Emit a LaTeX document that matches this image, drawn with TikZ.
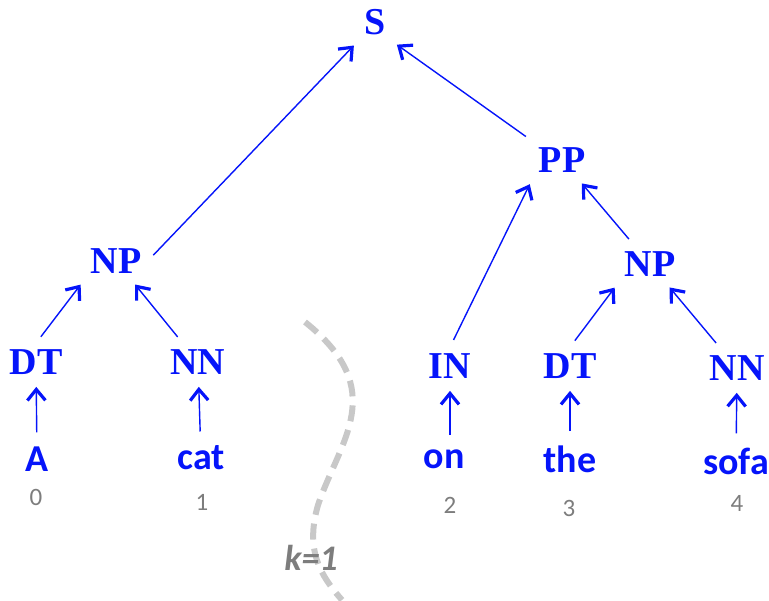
\documentclass[tikz,border=0pt]{standalone}
\usepackage{fontspec}
\setmainfont{Liberation Serif}
\newfontfamily\tagfont{Liberation Serif}
\newfontfamily\wordfont{Carlito}
\usetikzlibrary{arrows.meta}

\definecolor{treeblue}{RGB}{5,20,250}
\definecolor{idxgray}{RGB}{125,125,125}
\definecolor{cutgray}{RGB}{200,200,200}

\begin{document}
\begin{tikzpicture}[
  x=0.5pt, y=-0.5pt,
  tag/.style={font=\tagfont\bfseries\fontsize{19}{20}\selectfont, text=treeblue, inner sep=3pt},
  word/.style={font=\wordfont\bfseries\fontsize{19}{20}\selectfont, text=treeblue, inner sep=3pt},
  idx/.style={font=\wordfont\fontsize{12.5}{13}\selectfont, text=idxgray},
  up/.style={treeblue, line width=0.7pt,
    -{Straight Barb[length=5.5pt, width=9pt, line width=1.6pt]},
    shorten <=4pt, shorten >=3pt},
]
\useasboundingbox (0,0) rectangle (769,600);

% Root and phrases
\node[tag] (s)   at (375, 22)  {S};
\node[tag] (pp)  at (562, 160) {PP};
\node[tag] (np1) at (116, 261) {NP};
\node[tag] (np2) at (650, 264) {NP};

% Part-of-speech tags
\node[tag] (dt1) at (36, 362)  {DT};
\node[tag] (nn1) at (198, 362) {NN};
\node[tag] (in)  at (450, 366) {IN};
\node[tag] (dt2) at (570, 366) {DT};
\node[tag] (nn2) at (737, 368) {NN};

% Words
\node[word] (w0) at (37, 459)  {A};
\node[word] (w1) at (201, 458) {cat};
\node[word] (w2) at (444, 459) {on};
\node[word] (w3) at (570, 459) {the};
\node[word] (w4) at (736, 461) {sofa};

% Word positions
\node[idx] (i0) at (36, 497)  {0};
\node[idx] (i1) at (202, 502) {1};
\node[idx] (i2) at (450, 505) {2};
\node[idx] (i3) at (569, 508) {3};
\node[idx] (i4) at (737, 503) {4};

% Arrows from words to tags
\draw[up] (w0) -- (dt1);
\draw[up] (w1) -- (nn1);
\draw[up] (w2.north -| in) -- (in);
\draw[up] (w3) -- (dt2);
\draw[up] (w4) -- (nn2);

% Arrows between constituents
\draw[up] (dt1.north) -- (np1.south west);
\draw[up] (nn1) -- (np1);
\draw[up] (dt2.north) -- (np2.south west);
\draw[up] (nn2) -- (np2);
\draw[up] (in.north) -- (pp.south west);
\draw[up] (np2) -- (pp);
\draw[up] (np1.east) -- (s.south west);
\draw[up] (pp.north west) -- (s.south east);

% Split point
\coordinate (cuttop) at (305, 322);
\coordinate (cutbot) at (342, 600);
\draw[cutgray, line width=3pt, dash pattern=on 8pt off 4.5pt]
  (cuttop) .. controls (390, 390) and (340, 440) .. (318, 505)
  .. controls (305, 550) and (320, 575) .. (cutbot);
\node[font=\wordfont\bfseries\itshape\fontsize{18}{19}\selectfont, text=idxgray] (k) at (311, 558) {k=1};

\end{tikzpicture}
\end{document}
